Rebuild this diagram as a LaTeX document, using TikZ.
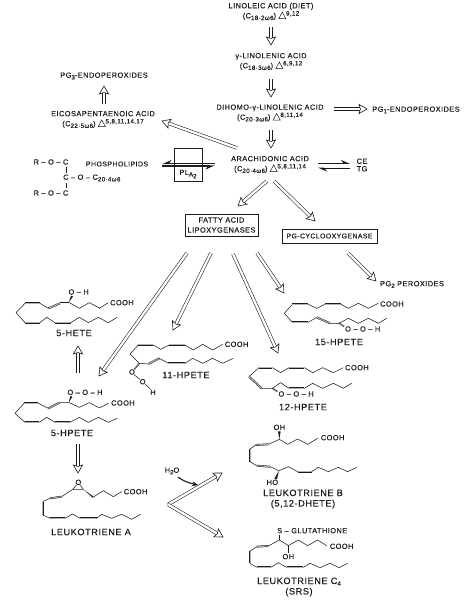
\documentclass[tikz,border=0pt]{standalone}
\usepackage{fontspec}
\setmainfont[LetterSpace=6,FakeBold=0.25]{Liberation Sans}
\usetikzlibrary{arrows.meta,calc}
\newcommand{\dn}[1]{\raisebox{-1.7pt}{\fontsize{6.2}{6}\selectfont #1}}
\newcommand{\up}[1]{\raisebox{2.8pt}{\fontsize{6.2}{6}\selectfont #1}}
\newcommand{\dlt}{\raisebox{-.3pt}{\tikz[baseline=0pt]\draw[line width=.5pt,ink] (0,0)--(7pt,0)--(3.5pt,6.5pt)--cycle;}}
\definecolor{ink}{HTML}{1C1C1C}
\newcommand{\harrow}[2]{%
 \coordinate (hb) at ($#2!8pt!#1$);
 \coordinate (hn) at ($#2!6.5pt!#1$);
 \draw[hollow] #1 -- (hn);
 \filldraw[headtip] #2 -- ($(hb)!4.6pt!90:#2$) -- (hn) -- ($(hb)!-4.6pt!90:#2$) -- cycle;}
\tikzset{
 every node/.style={text=ink,inner sep=0pt,font=\fontsize{7.4}{10}\selectfont},
 lbl/.style={align=center},
 big/.style={font=\fontsize{9.2}{10.5}\selectfont,align=center},
 hollow/.style={draw=ink,line width=.55pt,double=white,double distance=2.3pt},
 headtip/.style={draw=ink,fill=white,line width=.6pt,line join=miter},
 bond/.style={draw=ink,line width=.55pt,line join=round},
 dbond/.style={draw=ink,line width=.45pt,double=black!30,double distance=1pt},
 hash/.style={draw=ink,line width=1.6pt,dash pattern=on .5pt off .6pt},
 wedge/.style={fill=ink},
 enz/.style={draw=ink,line width=.8pt,minimum height=14pt,align=center},
 half/.style={draw=ink,line width=.8pt,-{Stealth[harpoon,length=8pt,width=7pt]}},
 thick band/.style={draw=ink,line width=1.3pt},
 molz/.style={x=.3333pt,y=-.3333pt}
}
\begin{document}
\begin{tikzpicture}[x=1pt,y=-1pt]
\useasboundingbox (0,0) rectangle (470,600);
% main chain labels
\node[lbl] (lin) at (271,11.5) {LINOLEIC ACID (DIET)\\(C\dn{18·2ω6}) \dlt\up{9,12}};
\node[lbl] (gam) at (271,61.5) {γ-LINOLENIC ACID\\(C\dn{18·3ω6}) \dlt\up{6,9,12}};
\node[lbl] (dih) at (270,113) {DIHOMO-γ-LINOLENIC ACID\\(C\dn{20·3ω6}) \dlt\up{8,11,14}};
\node[lbl] (ara) at (270,164.5) {ARACHIDONIC ACID\\(C\dn{20·4ω6}) \dlt\up{5,8,11,14}};
\node[lbl] (epa) at (103,119.5) {EICOSAPENTAENOIC ACID\\(C\dn{22·5ω6}) \dlt\up{5,8,11,14,17}};
\node (pg3) at (104,76) {PG\dn{3}-ENDOPEROXIDES};
\node (pg1) at (416,110) {PG\dn{1}-ENDOPEROXIDES};
\node[lbl] (cetg) at (362,165) {CE\\[-2.5pt]TG};
\node (pgtwo) at (412,284.5) {PG\dn{2} PEROXIDES};
\harrow{(271,27)}{(271,45)}
\harrow{(271,79)}{(271,97)}
\harrow{(271,130)}{(271,148)}
\harrow{(334,109)}{(367,109)}
\harrow{(237,148)}{(162,121)}
\harrow{(104,104)}{(104,86)}
% phospholipids
\node (r1) at (51,162) {R – O – C};
\node (r2) at (51,193) {R – O – C};
\node[anchor=west] (r3) at (63,178) {C – O – C\dn{20·4ω6}};
\node[font=\fontsize{7}{10}\selectfont] (pl) at (117,164) {PHOSPHOLIPIDS};
\draw[bond] (66,167)--(66,173) (66,183)--(66,188);
% PLA2
\node[draw=ink,line width=.6pt,minimum width=28pt,minimum height=33pt] (plabox) at (188,164.5) {};
\node (plat) at (188,174) {PL\dn{A\dn{2}}};
\draw[thick band,-{Stealth[harpoon,swap,length=8pt,width=7pt]}] (215,163.5) -- (162,163.5);
\draw[thick band,-{Stealth[harpoon,swap,length=8pt,width=7pt]}] (162,166) -- (215,166);
% CE TG
\draw[half] (318,163.5) -- (350,163.5);
\draw[half] (350,168) -- (318,168);
% enzymes
\node[enz,minimum width=73pt,minimum height=22pt] (fatty) at (221.5,225) {FATTY ACID\\LIPOXYGENASES};
\node[enz,minimum width=95pt,font=\fontsize{6.9}{10}\selectfont] (cox) at (329.5,236) {PG-CYCLOOXYGENASE};
\harrow{(267,181)}{(238,206)}
\harrow{(274,181)}{(315,221)}
\harrow{(348,253)}{(376,281)}
\harrow{(257,253)}{(284,293)}
\harrow{(233,254)}{(278,353)}
\harrow{(187,253)}{(99,376)}
\harrow{(211,253)}{(173,330)}
% labels of molecules
\node[big] (hete) at (74,333) {5-HETE};
\node[big] (h11) at (186,375) {11-HPETE};
\node[big] (h15) at (339,342) {15-HPETE};
\node[big] (h12) at (303,407) {12-HPETE};
\node[big] (hp5) at (72,433) {5-HPETE};
\node[big] (lta) at (91,532) {LEUKOTRIENE A};
\node[big] (ltb) at (303,499) {LEUKOTRIENE B\\(5,12-DHETE)};
\node[big] (ltc) at (299,587) {LEUKOTRIENE C\dn{4}\\(SRS)};
\harrow{(78,373)}{(78,346)}
\harrow{(78,444)}{(78,473)}
\coordinate (fork) at (168,504.5);
\coordinate (ftop) at (222,473);
\coordinate (fbot) at (223,537);
\harrow{(fork)}{(ftop)}
\harrow{(fork)}{(fbot)}
\node (water) at (172,471) {H\dn{2}O};
\draw[draw=ink,line width=1.1pt,-{Stealth[length=6pt,width=5pt]}] (178,477) .. controls (183,481) and (189,483) .. (198,485);
% 5-HETE
\begin{scope}[shift={(0,200)},molz]
\draw[bond] (300,325)--(268,308)--(238,325)--(208,308);
\draw[bond] (325,308)--(298,325);
\draw[bond] (208,308)--(180,308);
\draw[dbond] (180,310)--(145,325);
\draw[bond] (145,325)--(120,310);
\draw[dbond] (120,310)--(75,310);
\draw[bond] (75,310)--(48,338)--(75,368);
\draw[dbond] (75,368)--(120,368);
\draw[bond] (120,368)--(140,352)--(165,368);
\draw[dbond] (165,368)--(212,368);
\draw[bond] (212,368)--(238,352)--(265,368)--(295,352)--(325,368)--(352,352);
\fill[wedge] (206,308)--(213,287)--(219,289)--cycle;
\node (a1) at (236,276) {O – H};
\node[anchor=west] (a2) at (330,308) {COOH};
\end{scope}
% 5-HPETE
\begin{scope}[shift={(0,400)},molz]
\draw[bond] (325,10)--(298,24)--(268,8)--(238,22)--(208,8)--(178,8);
\draw[dbond] (178,8)--(145,25);
\draw[bond] (145,25)--(115,10);
\draw[dbond] (115,10)--(72,10);
\draw[bond] (72,10)--(45,40)--(75,67);
\draw[dbond] (75,67)--(118,67);
\draw[bond] (118,67)--(140,52)--(165,67);
\draw[dbond] (165,67)--(210,67);
\draw[bond] (210,67)--(238,52)--(265,67)--(295,52)--(325,67)--(352,55);
\fill[wedge] (206,8)--(211,-12)--(217,-10)--cycle;
\node (b1) at (255,-23) {O – O – H};
\node[anchor=west] (b2) at (333,9) {COOH};
\end{scope}
% 11-HPETE
\begin{scope}[shift={(0,200)},molz]
\draw[bond] (390,462)--(415,435);
\draw[dbond] (415,435)--(460,435);
\draw[bond] (460,435)--(482,448)--(508,435);
\draw[dbond] (508,435)--(555,435);
\draw[bond] (555,435)--(580,450)--(608,433)--(638,450)--(668,433);
\draw[bond] (390,462)--(418,490)--(445,492);
\draw[dbond] (445,492)--(478,475);
\draw[bond] (478,475)--(505,490);
\draw[dbond] (505,490)--(555,490);
\draw[bond] (555,490)--(578,475)--(608,490)--(638,475)--(668,490)--(700,475);
\draw[hash] (418,490)--(403,508);
\node (c1) at (396,516) {O};
\draw[bond] (402,524)--(420,538);
\node (c2) at (428,545) {O};
\draw[bond] (435,552)--(452,568);
\node (c3) at (459,577) {H};
\node[anchor=west] (c4) at (674,433) {COOH};
\end{scope}
% 15-HPETE
\begin{scope}[shift={(235,200)},molz]
\draw[bond] (148,340)--(172,313);
\draw[dbond] (172,313)--(220,313);
\draw[bond] (220,313)--(245,325)--(270,313);
\draw[dbond] (270,313)--(318,313);
\draw[bond] (318,313)--(340,325)--(370,310)--(400,325)--(430,310);
\draw[bond] (148,340)--(172,367);
\draw[dbond] (172,367)--(220,367);
\draw[bond] (220,367)--(245,352);
\draw[dbond] (245,352)--(285,370);
\draw[bond] (285,370)--(312,370)--(340,355)--(370,370)--(400,355)--(430,370)--(455,355);
\draw[hash] (312,370)--(328,380);
\node[anchor=west] (d1) at (330,387) {O – O – H};
\node[anchor=west] (d2) at (435,312) {COOH};
\end{scope}
% 12-HPETE
\begin{scope}[shift={(235,200)},molz]
\draw[bond] (42,530)--(72,503);
\draw[dbond] (72,503)--(112,503);
\draw[bond] (112,503)--(137,518)--(162,503);
\draw[dbond] (162,503)--(208,503);
\draw[bond] (208,503)--(233,518)--(263,503)--(295,518)--(325,503);
\draw[dbond] (42,530)--(80,565);
\draw[bond] (80,565)--(112,565)--(137,548)--(162,565);
\draw[dbond] (162,565)--(208,565);
\draw[bond] (208,565)--(233,550)--(263,565)--(295,550)--(325,565)--(350,550);
\draw[hash] (112,565)--(128,575);
\node[anchor=west] (e1) at (130,582) {O – O – H};
\node[anchor=west] (e2) at (330,503) {COOH};
\end{scope}
% Leukotriene A
\begin{scope}[shift={(0,400)},molz]
\node (f1) at (235,247) {O};
\draw[bond] (229,255)--(218,268)--(250,268)--(241,255);
\draw[bond] (218,268)--(185,290);
\draw[dbond] (185,290)--(150,295);
\draw[bond] (150,295)--(128,305);
\draw[dbond] (128,305)--(128,345);
\draw[bond] (128,345)--(150,355);
\draw[dbond] (150,355)--(195,355);
\draw[bond] (195,355)--(218,342)--(240,355);
\draw[dbond] (240,355)--(290,355);
\draw[bond] (290,355)--(305,343)--(335,355)--(365,343)--(395,358)--(422,343);
\fill[wedge] (250,268)--(278,288)--(283,292)--(278,293)--cycle;
\draw[bond] (282,290)--(310,272)--(340,290)--(365,275);
\node[anchor=west] (f2) at (371,275) {COOH};
\end{scope}
% Leukotriene B
\begin{scope}[shift={(235,400)},molz]
\node (g1) at (133,82) {OH};
\fill[wedge] (133,118)--(129,94)--(137,94)--cycle;
\draw[bond] (133,118)--(100,133);
\draw[dbond] (100,133)--(62,135);
\draw[bond] (62,135)--(45,147);
\draw[dbond] (45,147)--(45,185);
\draw[bond] (45,185)--(65,197);
\draw[dbond] (65,197)--(105,200);
\draw[bond] (105,200)--(132,212)--(160,200)--(188,215);
\draw[dbond] (188,215)--(230,215);
\draw[bond] (230,215)--(250,202)--(280,215)--(310,202)--(338,215)--(365,202);
\draw[bond] (133,118)--(158,133)--(188,117)--(218,133)--(248,115);
\node[anchor=west] (g2) at (257,113) {COOH};
\fill[wedge] (132,212)--(118,236)--(126,238)--cycle;
\node (g3) at (112,247) {HO};
\end{scope}
% Leukotriene C4
\begin{scope}[shift={(235,400)},molz]
\node[anchor=west] (h1) at (126,392) {S – GLUTATHIONE};
\draw[bond] (133,405)--(133,420);
\draw[bond] (133,420)--(100,438);
\draw[dbond] (100,438)--(65,440);
\draw[bond] (65,440)--(45,453);
\draw[dbond] (45,453)--(45,490);
\draw[bond] (45,490)--(65,502);
\draw[dbond] (65,502)--(108,502);
\draw[bond] (108,502)--(130,488)--(155,502);
\draw[dbond] (155,502)--(205,502);
\draw[bond] (205,502)--(225,490)--(255,503)--(285,490)--(312,503)--(338,490);
\draw[bond] (133,420)--(160,437)--(190,420)--(218,437)--(248,420)--(275,437);
\draw[bond] (160,437)--(160,458);
\node (h2) at (160,470) {OH};
\node[anchor=west] (h3) at (284,439) {COOH};
\end{scope}
\end{tikzpicture}
\end{document}
